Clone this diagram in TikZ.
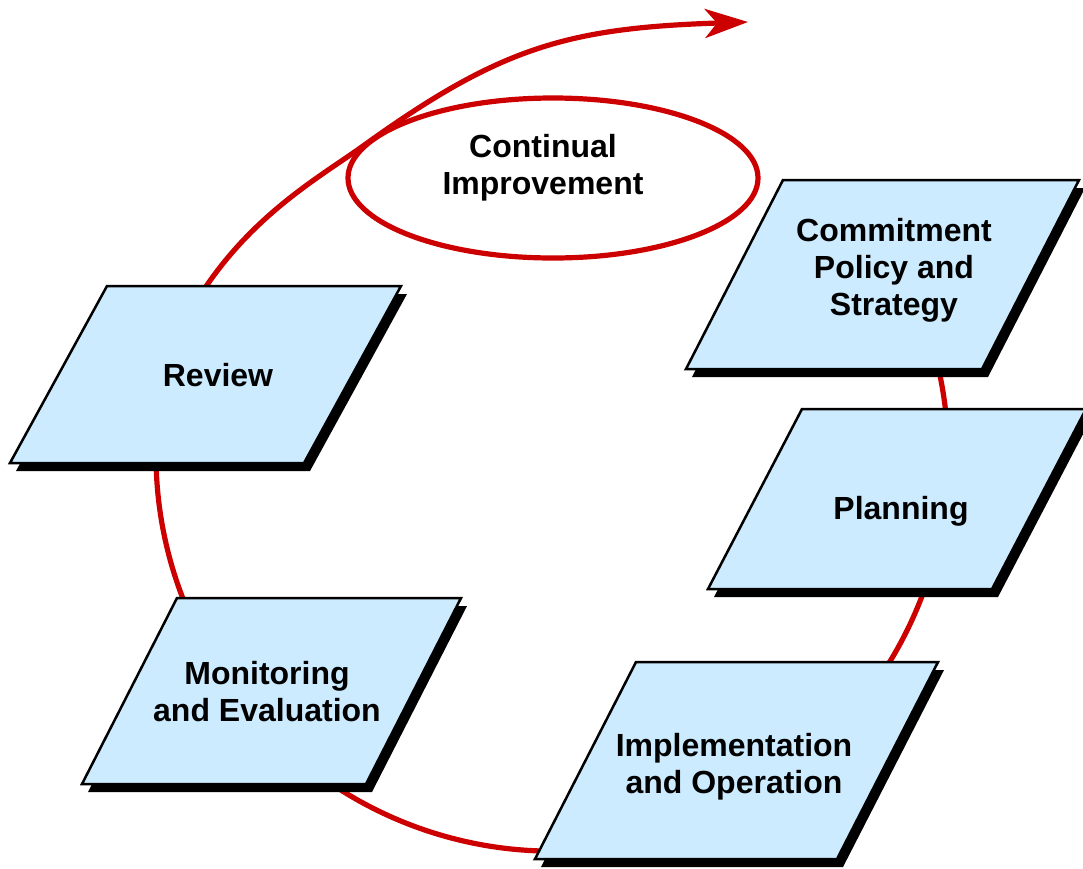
\documentclass[tikz,border=0pt]{standalone}
\usepackage{fontspec}
\setmainfont{Liberation Sans}
\usetikzlibrary{arrows.meta,calc}
\definecolor{loopred}{RGB}{204,0,0}
\definecolor{boxblue}{RGB}{204,235,255}
% slanted box with a hard black shadow: #1,#2 lower-left corner, #3 edge length, #4 height, #5 slant
\newcommand\slantbox[5]{%
  \fill[black] (#1+6,#2+8) -- ++(#3,0) -- ++(#5,-#4) -- ++(-#3,0) -- cycle;
  \filldraw[boxface] (#1,#2) -- ++(#3,0) -- ++(#5,-#4) -- ++(-#3,0) -- cycle;}
\begin{document}
\begin{tikzpicture}[x=1pt,y=-1pt,
  boxface/.style={fill=boxblue,draw=black,line width=2.5pt,line join=miter},
  ring/.style={draw=loopred,line width=5.2pt},
  caption/.style={font=\fontsize{32}{37}\selectfont\bfseries,align=center,inner sep=0pt}]
\useasboundingbox (0,0) rectangle (1083,868);
\clip (0,0) rectangle (1083,868);

% the improvement loop, running behind the boxes and leaving as an arrow
\coordinate (loopc) at (552,455);
\coordinate (rise) at (207,285);
\coordinate (touch) at (363,146);
\coordinate (tip) at (748,22);
\draw[ring,-{Stealth[length=43pt,width=29pt,inset=12pt]}]
  ($(loopc)+(-20:396)$) arc[start angle=-20,end angle=195,radius=396]
  .. controls (177.3,323.5) and (190.5,310) .. (rise)
  .. controls (258.1,210.9) and (322.4,175.2) .. (touch)
  .. controls (500.9,46.7) and (568,28) .. (tip);

% continual improvement ellipse
\draw[ring] (553,178) ellipse[x radius=205,y radius=80];
\node[caption] (improve) at (543,168) {Continual\\Improvement};

% stages
\slantbox{686}{369}{296}{189}{97}
\node[caption] (policy) at (894,270) {Commitment\\Policy and\\Strategy};

\slantbox{708}{589}{284}{180}{94}
\node[caption] (planning) at (901,511) {Planning};

\slantbox{535}{859}{302}{197}{101}
\node[caption] (implement) at (734,767) {Implementation\\and Operation};

\slantbox{82}{784}{284}{186}{95}
\node[caption] (monitor) at (267,692) {Monitoring\\and Evaluation};

\slantbox{10}{463}{294}{177}{97}
\node[caption] (review) at (218,375) {Review};
\end{tikzpicture}
\end{document}
